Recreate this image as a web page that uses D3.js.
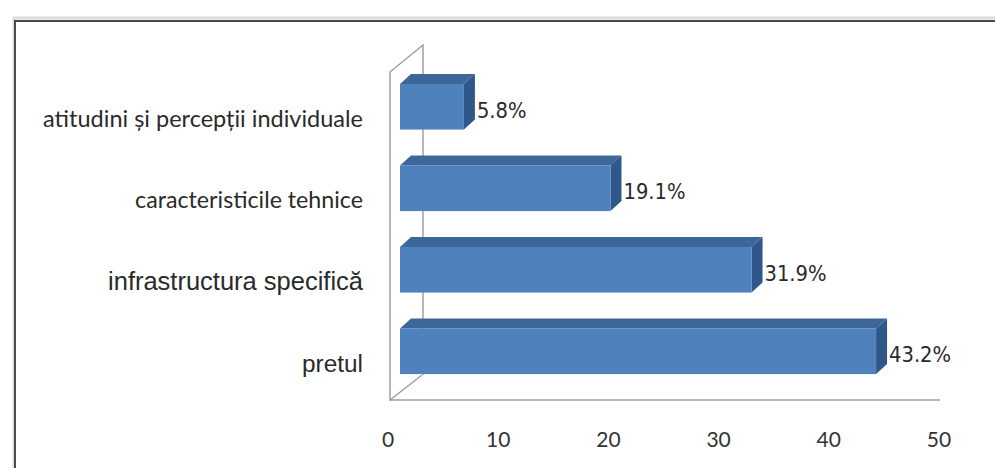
<!DOCTYPE html>
<html><head><meta charset="utf-8">
<script src="https://cdn.jsdelivr.net/npm/d3@7"></script>
<style>body{margin:0;background:#fff}</style></head>
<body>
<svg id="c" width="995" height="468"></svg>
<script>
// ---- data ----
const categories = ["atitudini și percepții individuale", "caracteristicile tehnice", "infrastructura specifică", "pretul"];
const values = [5.8, 19.1, 31.9, 43.2];
const valueLabels = ["5.8%", "19.1%", "31.9%", "43.2%"];
const tickValues = [0, 10, 20, 30, 40, 50];
const tickLabels = ["0", "10", "20", "30", "40", "50"];

// ---- layout ----
const svg = d3.select("#c");
const x = d3.scaleLinear().domain([0, 50]).range([388, 939]);
const y = d3.scaleBand().domain(categories).range([66, 392]).paddingInner(0.44).paddingOuter(0.22);
const barShift = 12;        // bars sit slightly behind the front plane
const dx = 11, dy = -10;    // bar depth
const floorY = 400, wallBackX = 423, wallTopY = 45, frontX = 390, frontTopY = 72, floorBackY = 375;

// frame
svg.append("rect").attr("x", 14).attr("y", 18).attr("width", 1000).attr("height", 500)
  .attr("fill", "none").attr("stroke", "#ddd").attr("stroke-width", 3);
svg.append("rect").attr("x", 15).attr("y", 21).attr("width", 1000).attr("height", 500)
  .attr("fill", "none").attr("stroke", "#4a4a4a").attr("stroke-width", 2);

// walls
const wall = svg.append("g").attr("stroke", "#a0a0a0").attr("stroke-width", 1.5).attr("fill", "none");
wall.append("path").attr("d", `M${wallBackX},${floorBackY}V${wallTopY}L${frontX},${frontTopY}V${floorY}L${wallBackX - 1},${floorBackY}`);
wall.append("line").attr("x1", frontX).attr("x2", x(50) + 1).attr("y1", floorY).attr("y2", floorY);

// bars
const bars = svg.append("g").selectAll("g").data(categories).join("g");
bars.each(function (c, i) {
  const g = d3.select(this);
  const x0 = x(0) + barShift, x1 = x(values[i]) + barShift;
  const yt = y(c), yb = y(c) + y.bandwidth();
  g.append("path").attr("fill", "#3d6699")
    .attr("d", `M${x0},${yt}L${x0 + dx},${yt + dy}L${x1 + dx},${yt + dy}L${x1},${yt}Z`);
  g.append("path").attr("fill", "#30578a")
    .attr("d", `M${x1},${yt}L${x1 + dx},${yt + dy}L${x1 + dx},${yb + dy}L${x1},${yb}Z`);
  g.append("rect").attr("fill", "#4f81bd").attr("x", x0).attr("y", yt).attr("width", x1 - x0).attr("height", yb - yt);
});

// fit helper
function fit(sel, targets) {
  sel.each(function (d, i) {
    const w = this.getComputedTextLength();
    const fs = parseFloat(this.getAttribute("font-size"));
    this.setAttribute("font-size", (fs * targets[i] / w).toFixed(2));
  });
}

// value labels
const vl = svg.append("g").selectAll("text").data(valueLabels).join("text")
  .attr("x", (d, i) => x(values[i]) + barShift + dx + 2)
  .attr("y", (d, i) => y(categories[i]) + y.bandwidth() / 2 + 5)
  .attr("dominant-baseline", "middle")
  .attr("font-family", "'DejaVu Sans Condensed', 'DejaVu Sans'").attr("font-size", 18)
  .attr("fill", "#2a2a2a").text(d => d);
{
  const n = vl.nodes()[3];
  const fs = 18 * 62 / n.getComputedTextLength();
  vl.attr("font-size", fs.toFixed(2));
}

// category labels
const catFonts = ["Lato", "Lato", "'Liberation Sans'", "'Liberation Sans'"];
const cl = svg.append("g").selectAll("text").data(categories).join("text")
  .attr("x", 363)
  .attr("y", c => y(c) + y.bandwidth() / 2 + 14)
  .attr("text-anchor", "end").attr("dominant-baseline", "middle")
  .attr("font-family", (d, i) => catFonts[i]).attr("font-size", 18)
  .attr("fill", "#2a2a2a").text(d => d);
fit(cl, [320, 228, 255, 61]);

// tick labels
const tl = svg.append("g").selectAll("text").data(tickValues).join("text")
  .attr("x", d => x(d)).attr("y", 442)
  .attr("text-anchor", "middle").attr("dominant-baseline", "middle")
  .attr("font-family", "Lato").attr("font-size", 21)
  .attr("fill", "#333").text((d, i) => tickLabels[i]);
</script>
</body></html>
